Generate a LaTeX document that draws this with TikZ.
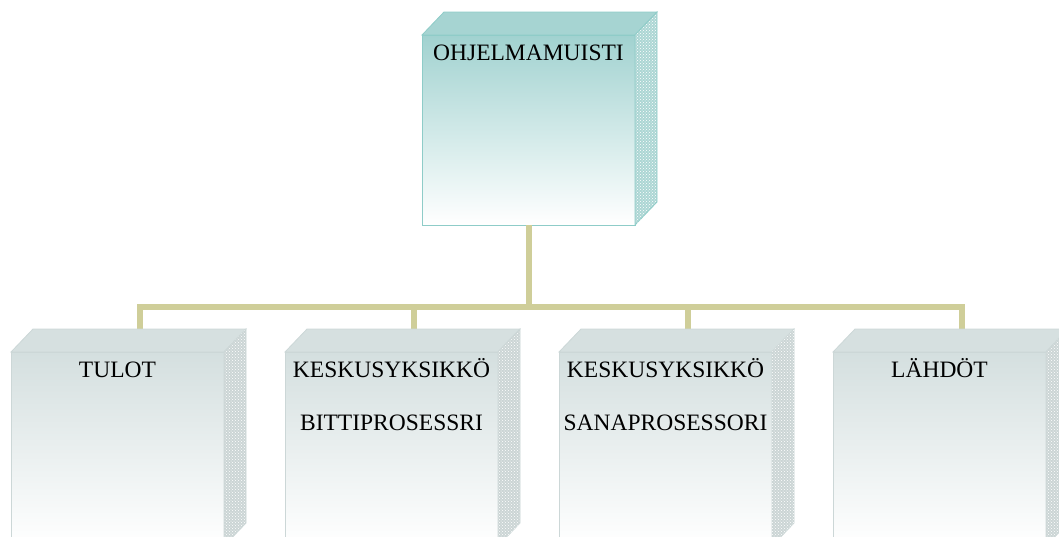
\documentclass[tikz,border=0pt]{standalone}
\usepackage{fontspec}
\setmainfont{Liberation Serif}
\usetikzlibrary{calc,patterns}

\definecolor{tealfront}{HTML}{A1D2D0}
\definecolor{tealtopface}{HTML}{A6D4D2}
\definecolor{tealedge}{HTML}{8ECCC8}
\definecolor{tealside}{HTML}{ACD6D4}
\definecolor{greyfront}{HTML}{D4DFDF}
\definecolor{greytopface}{HTML}{D6E0E0}
\definecolor{greyedge}{HTML}{CCD7D7}
\definecolor{greyside}{HTML}{CBD5D5}
\definecolor{busline}{HTML}{CFCE99}

\tikzset{
  frontface/.style={inner sep=0pt, outer sep=0pt, anchor=north west,
    minimum width=213pt, line width=0.8pt},
  tealbox/.style={frontface, minimum height=190pt, draw=tealedge,
    top color=tealfront, bottom color=white},
  greybox/.style={frontface, minimum height=194pt, draw=greyedge,
    top color=greyfront, bottom color=white},
  boxlabel/.style={anchor=base, inner sep=0pt,
    font=\fontsize{23.5}{28}\selectfont},
  bus/.style={draw=busline, line width=6pt},
}

% top and side faces of a block whose front face is node #1
\newcommand\blockfaces[4]{%
  \filldraw[fill=#2, draw=#4, line width=0.8pt]
    (#1.north west) -- ($(#1.north west)+(22,-23)$)
    -- ($(#1.north east)+(22,-23)$) -- (#1.north east) -- cycle;
  \filldraw[fill=#3, draw=#4, line width=0.8pt]
    (#1.north east) -- ($(#1.north east)+(22,-23)$)
    -- ($(#1.south east)+(22,-23)$) -- (#1.south east) -- cycle;
  \fill[pattern=crosshatch dots, pattern color=white]
    (#1.north east) -- ($(#1.north east)+(22,-23)$)
    -- ($(#1.south east)+(22,-23)$) -- (#1.south east) -- cycle;
}

\begin{document}
\begin{tikzpicture}[x=1pt, y=-1pt]
  \useasboundingbox (0,0) rectangle (1059,536);
  \clip (0,0) rectangle (1059,536);

  % front faces
  \node[tealbox] (mem) at (422,35) {};
  \node[greybox] (b1) at (11,352) {};
  \node[greybox] (b2) at (285,352) {};
  \node[greybox] (b3) at (559,352) {};
  \node[greybox] (b4) at (833,352) {};

  % connection points at the back edge of each lower block
  \coordinate (t1) at ($(b1.north)+(22,-23)$);
  \coordinate (t2) at ($(b2.north)+(22,-23)$);
  \coordinate (t3) at ($(b3.north)+(22,-23)$);
  \coordinate (t4) at ($(b4.north)+(22,-23)$);
  \coordinate (busmid) at ($(mem.south)+(0,82)$);

  % connectors
  \draw[bus] (mem.south) -- (busmid);
  \draw[bus] (t1) |- (busmid) -| (t4);
  \draw[bus] (t2) -- (t2 |- busmid);
  \draw[bus] (t3) -- (t3 |- busmid);

  % block depth
  \blockfaces{mem}{tealtopface}{tealside}{tealedge}
  \blockfaces{b1}{greytopface}{greyside}{greyedge}
  \blockfaces{b2}{greytopface}{greyside}{greyedge}
  \blockfaces{b3}{greytopface}{greyside}{greyedge}
  \blockfaces{b4}{greytopface}{greyside}{greyedge}

  % labels
  \node[boxlabel] (lmem) at ($(mem.north)+(0,25.5)$) {OHJELMAMUISTI};
  \node[boxlabel] (l1) at ($(b1.north)+(0,25.5)$) {TULOT};
  \node[boxlabel] (l2a) at ($(b2.north)+(0,25.5)$) {KESKUSYKSIKKÖ};
  \node[boxlabel] (l2b) at ($(b2.north)+(0,78)$) {BITTIPROSESSRI};
  \node[boxlabel] (l3a) at ($(b3.north)+(0,25.5)$) {KESKUSYKSIKKÖ};
  \node[boxlabel] (l3b) at ($(b3.north)+(0,78)$) {SANAPROSESSORI};
  \node[boxlabel] (l4) at ($(b4.north)+(0,25.5)$) {LÄHDÖT};
\end{tikzpicture}
\end{document}
